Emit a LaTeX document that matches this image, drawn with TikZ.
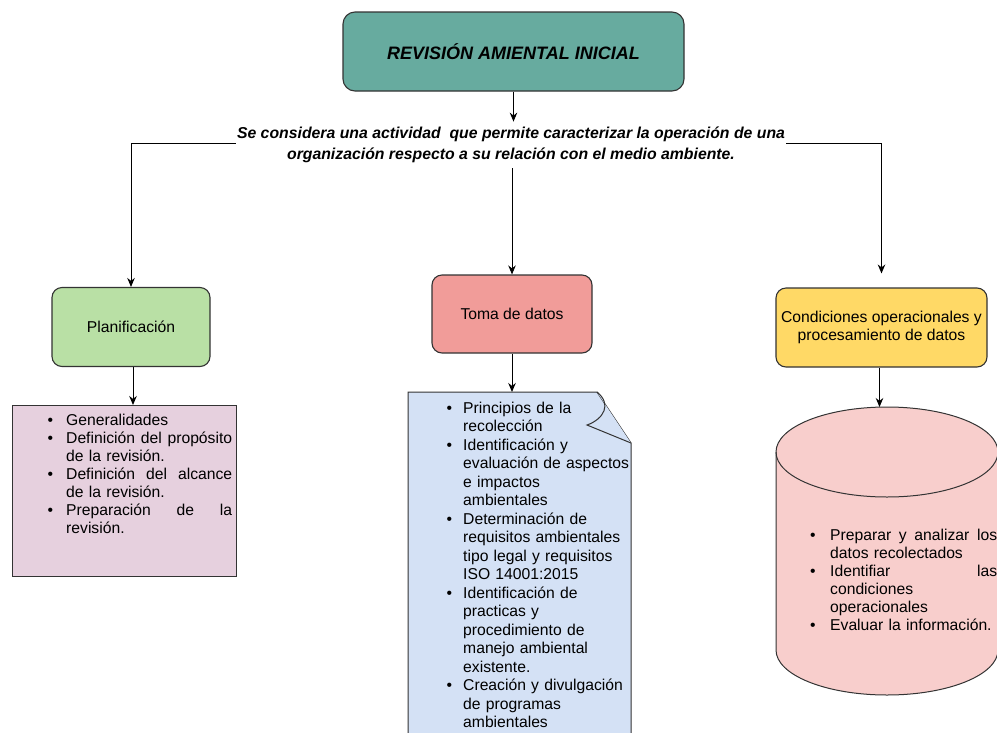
\documentclass[tikz,border=0pt]{standalone}
\usepackage{fontspec}
\setmainfont{Liberation Sans}
\usetikzlibrary{arrows.meta,calc}
\definecolor{bord}{HTML}{333333}
\definecolor{tealbox}{HTML}{67AB9F}
\definecolor{greenbox}{HTML}{B9E0A5}
\definecolor{salmonbox}{HTML}{F19C99}
\definecolor{yellowbox}{HTML}{FFD966}
\definecolor{pinkbox}{HTML}{E6D0DE}
\definecolor{bluenote}{HTML}{D4E1F5}
\definecolor{cylpink}{HTML}{F8CECC}
\newlength\bw \setlength\bw{22pt}
\newlength\bo
\newcommand{\bu}{\makebox[\bw][l]{\hspace{\bo}\textbullet}}
\newcommand{\cn}{\hspace*{\bw}}
\newcommand{\jl}[2]{\hbox to #1{#2}}
\begin{document}
\begin{tikzpicture}[x=1pt,y=-1pt,
  box/.style={draw=bord, line width=1.1pt, rounded corners=10pt, align=center,
    font=\fontsize{15.7}{18}\selectfont, inner sep=2pt},
  arr/.style={-{Stealth[length=9pt,width=7.5pt]}, line width=1pt},
  listtext/.style={anchor=north west, inner sep=0pt, align=left,
    font=\fontsize{15.7}{18}\selectfont}]
\useasboundingbox (0,0) rectangle (997,732);

% title and description
\node[box, fill=tealbox, rounded corners=12pt, minimum width=341pt, minimum height=79pt,
  font=\bfseries\itshape\fontsize{18}{21}\selectfont] (title) at (513.5,51.5) {REVISIÓN AMIENTAL INICIAL};
\node[font=\bfseries\itshape\fontsize{15.8}{21.5}\selectfont, align=center,
  inner xsep=1pt, inner ysep=5pt] (desc) at (511,145)
  {Se considera una actividad\ \ que permite caracterizar la operación de una\\organización respecto a su relación con el medio ambiente.};

% level boxes
\node[box, fill=greenbox, minimum width=158pt, minimum height=79pt] (plan) at (131,327) {Planificación};
\node[box, fill=salmonbox, minimum width=160pt, minimum height=78pt] (toma) at (512,314) {Toma de datos};
\node[box, fill=yellowbox, minimum width=211pt, minimum height=79pt] (cond) at (881.5,327.5)
  {Condiciones operacionales y\\procesamiento de datos};

% left list box
\node[draw=bord, fill=pinkbox, line width=1pt, minimum width=224pt, minimum height=171pt, inner sep=0pt]
  (lbox) at (124.5,491) {};
\node[listtext, text width=188pt] (ltext) at (44,412.4) {\setlength\bo{3.3pt}%
\strut\bu Generalidades\\
\bu\jl{166pt}{Definición\hfill del\hfill propósito}\\
\cn de la revisión.\\
\bu\jl{166pt}{Definición\hfill del\hfill alcance}\\
\cn de la revisión.\\
\bu\jl{166pt}{Preparación\hfill de\hfill la}\\
\cn revisión.};

% middle note
\coordinate (notetop) at (512,392);
\fill[bluenote] (408,392) -- (597,392) -- (631,443) -- (631,745) -- (408,745) -- cycle;
\draw[bord, line width=1pt] (408,745) -- (408,392) -- (597,392) -- (631,443) -- (631,745);
\draw[bord, line width=1pt, fill=bluenote] (597,392) .. controls (612,404) and (604,419) .. (587,425) -- (631,443);
\node[listtext, text width=190pt, font=\fontsize{15.7}{18.5}\selectfont] (mtext) at (441,400.2) {\setlength\bo{5.3pt}%
\strut\bu Principios de la\\
\cn recolección\\
\bu Identificación y\\
\cn evaluación de aspectos\\
\cn e impactos\\
\cn ambientales\\
\bu Determinación de\\
\cn requisitos ambientales\\
\cn tipo legal y requisitos\\
\cn ISO 14001:2015\\
\bu Identificación de\\
\cn practicas y\\
\cn procedimiento de\\
\cn manejo ambiental\\
\cn existente.\\
\bu Creación y divulgación\\
\cn de programas\\
\cn ambientales};

% cylinder
\coordinate (cyltop) at (879,407);
\draw[bord, line width=1pt, fill=cylpink] (776,452) -- (776,650) arc (180:360:111pt and 45pt)
  -- (998,452) arc (0:180:111pt and 45pt) -- cycle;
\draw[bord, line width=1pt] (776,452) arc (180:360:111pt and 45pt);
\node[listtext, text width=189pt] (ctext) at (808,527.4) {\setlength\bo{2pt}%
\strut\bu\jl{167pt}{Preparar\hfill y\hfill analizar\hfill los}\\
\cn datos recolectados\\
\bu\jl{167pt}{Identifiar\hfill las}\\
\cn condiciones\\
\cn operacionales\\
\bu Evaluar la información.};

% connectors
\draw[arr] (title.south) -- (title.south |- desc.north);
\draw[arr] (toma.north |- desc.south) -- (toma.north);
\draw[arr] ([yshift=2pt]desc.west) -| (plan.north);
\draw[arr] ([yshift=2pt]desc.east) -| ([yshift=14pt]cond.north);
\draw[arr] ([xshift=2pt]plan.south) -- ([xshift=2pt]plan.south |- lbox.north);
\draw[arr] (toma.south) -- (toma.south |- notetop);
\draw[arr] ([xshift=-2pt]cond.south) -- ([xshift=-2pt]cond.south |- cyltop);
\end{tikzpicture}
\end{document}
